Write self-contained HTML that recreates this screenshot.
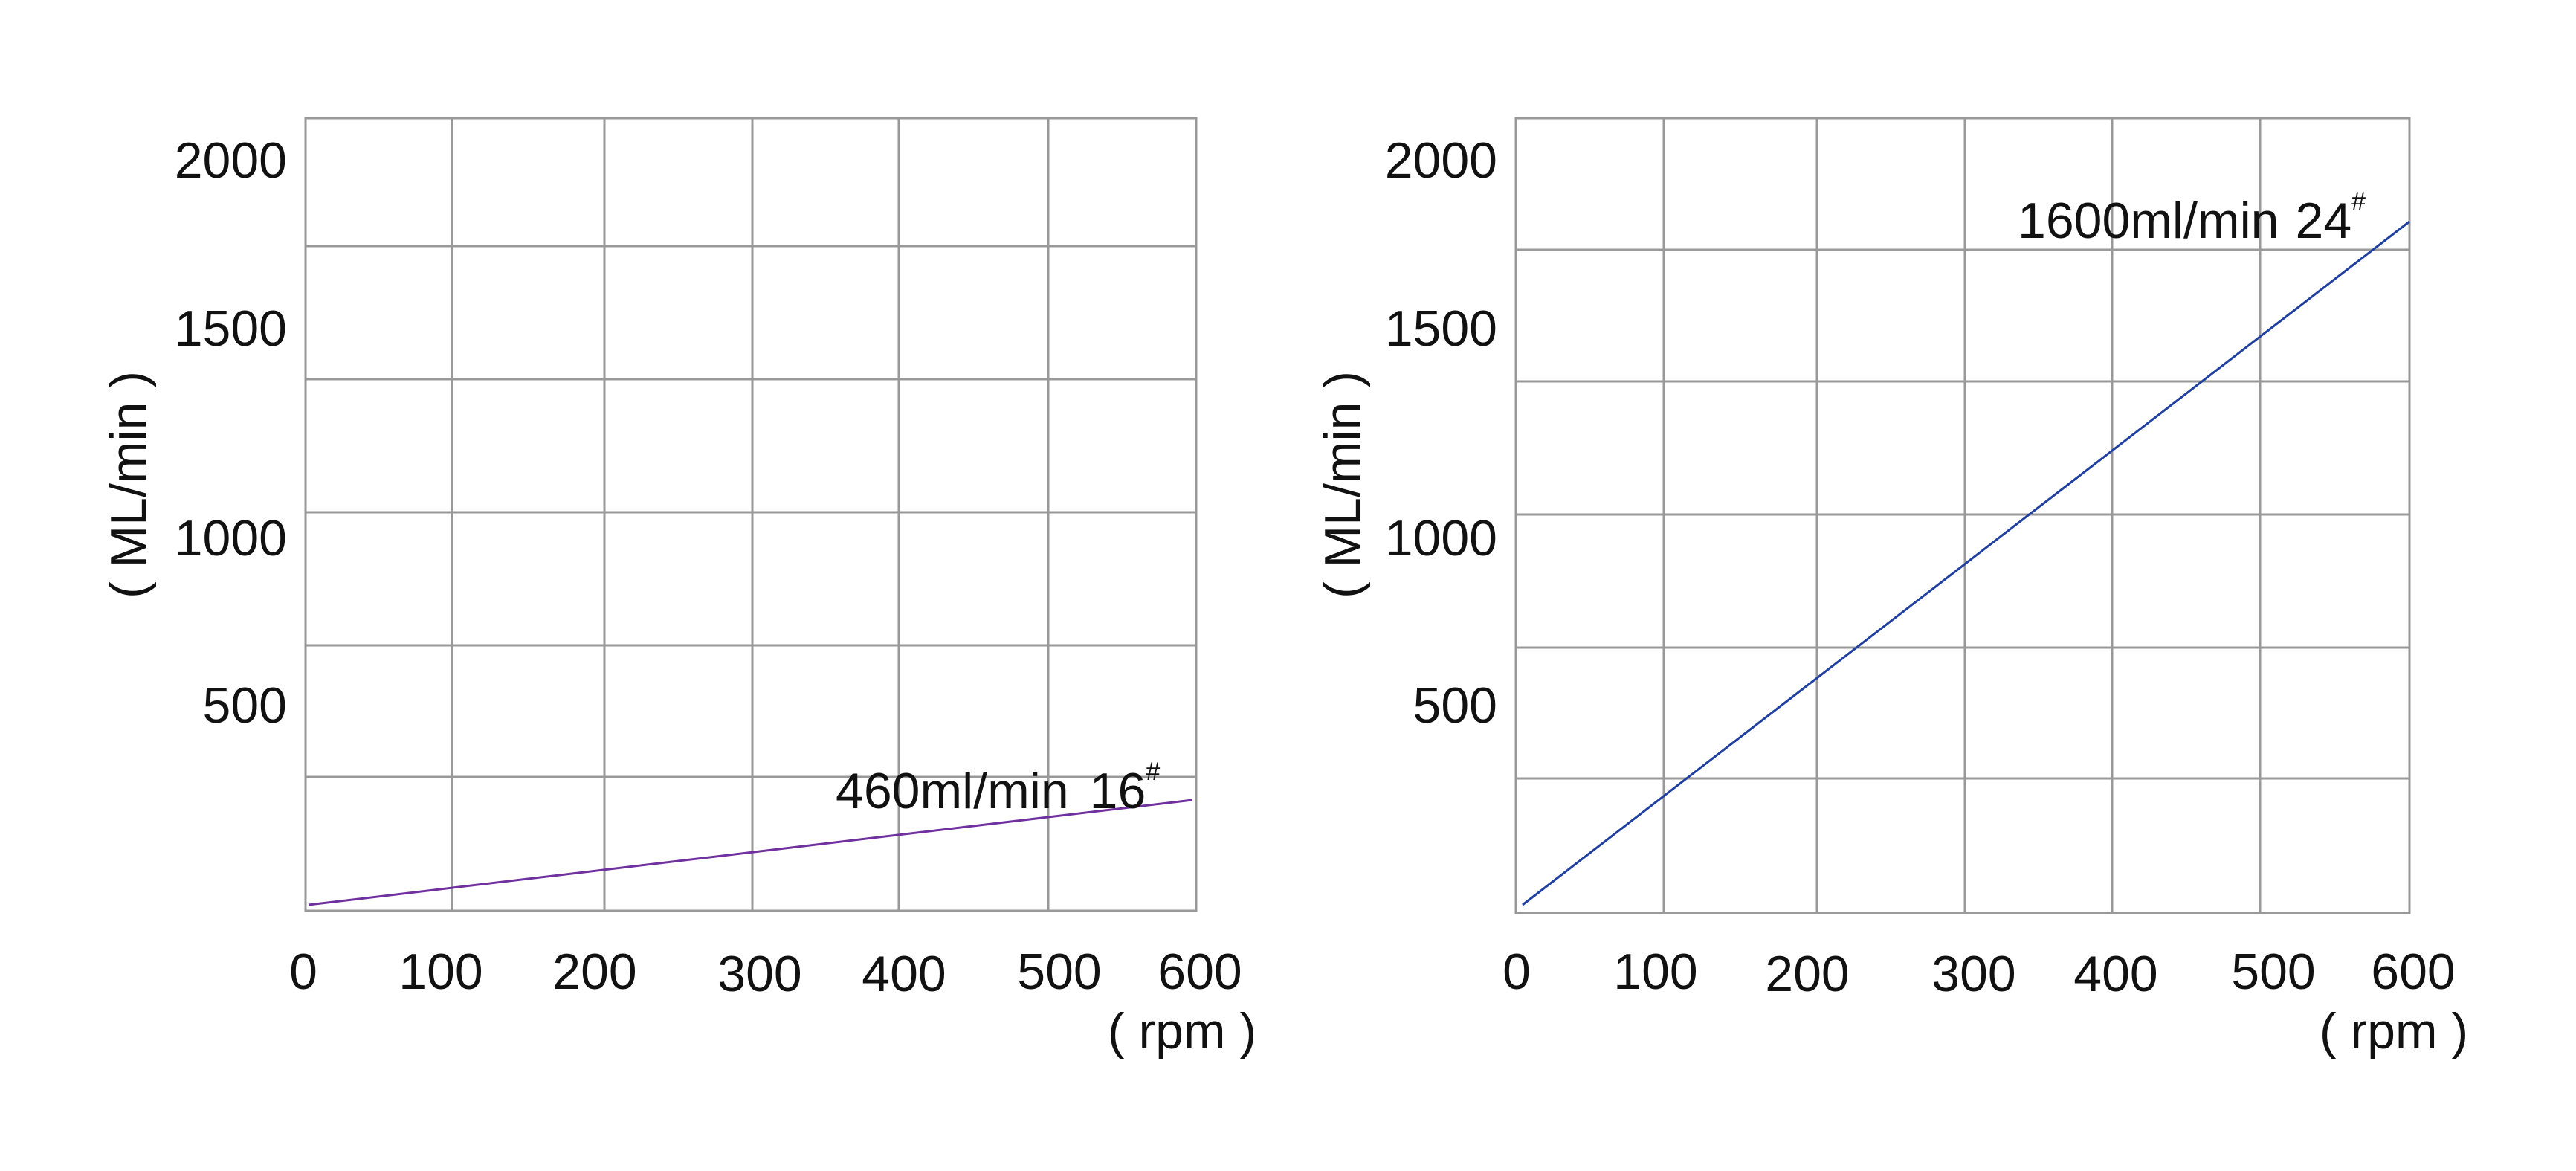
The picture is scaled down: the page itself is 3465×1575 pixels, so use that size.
<!DOCTYPE html>
<html><head><meta charset="utf-8"><style>
html,body{margin:0;padding:0;background:#fff;}
svg{display:block;}
text{font-family:"Liberation Sans",sans-serif;fill:#111;}
</style></head><body>
<svg width="3465" height="1575" viewBox="0 0 3465 1575" xmlns="http://www.w3.org/2000/svg">
<g stroke="#999" stroke-width="3" fill="none">
<rect x="411" y="159" width="1198" height="1066"/>
<line x1="608" y1="159" x2="608" y2="1225"/><line x1="813" y1="159" x2="813" y2="1225"/>
<line x1="1012" y1="159" x2="1012" y2="1225"/><line x1="1209" y1="159" x2="1209" y2="1225"/>
<line x1="1410" y1="159" x2="1410" y2="1225"/>
<line x1="411" y1="331" x2="1609" y2="331"/><line x1="411" y1="510" x2="1609" y2="510"/>
<line x1="411" y1="689" x2="1609" y2="689"/><line x1="411" y1="868" x2="1609" y2="868"/>
<line x1="411" y1="1045" x2="1609" y2="1045"/>
<rect x="2039" y="159" width="1202" height="1069"/>
<line x1="2238" y1="159" x2="2238" y2="1228"/><line x1="2444" y1="159" x2="2444" y2="1228"/>
<line x1="2643" y1="159" x2="2643" y2="1228"/><line x1="2841" y1="159" x2="2841" y2="1228"/>
<line x1="3040" y1="159" x2="3040" y2="1228"/>
<line x1="2039" y1="336" x2="3241" y2="336"/><line x1="2039" y1="513" x2="3241" y2="513"/>
<line x1="2039" y1="692" x2="3241" y2="692"/><line x1="2039" y1="871" x2="3241" y2="871"/>
<line x1="2039" y1="1047" x2="3241" y2="1047"/>
</g>
<line x1="415" y1="1217" x2="1604" y2="1076" stroke="#7030a0" stroke-width="3"/>
<line x1="2048" y1="1217" x2="3241" y2="298" stroke="#2040a0" stroke-width="3"/>
<g font-size="68">
<g text-anchor="end">
<text x="386" y="239">2000</text><text x="386" y="465">1500</text>
<text x="386" y="747">1000</text><text x="386" y="972">500</text>
<text x="2014" y="239">2000</text><text x="2014" y="465">1500</text>
<text x="2014" y="747">1000</text><text x="2014" y="972">500</text>
</g>
<g text-anchor="middle">
<text x="408" y="1330">0</text><text x="593" y="1330">100</text><text x="800" y="1330">200</text>
<text x="1022" y="1333">300</text><text x="1216" y="1333">400</text><text x="1425" y="1330">500</text><text x="1614" y="1330">600</text>
<text x="1590" y="1410">( rpm )</text>
<text x="2040" y="1330">0</text><text x="2227" y="1330">100</text><text x="2431" y="1333">200</text>
<text x="2655" y="1333">300</text><text x="2846" y="1333">400</text><text x="3058" y="1330">500</text><text x="3246" y="1330">600</text>
<text x="3220" y="1410">( rpm )</text>
<text transform="translate(196,652) rotate(-90)">( ML/min )</text>
<text transform="translate(1829,652) rotate(-90)">( ML/min )</text>
</g>
<text x="1124" y="1087">460ml/min<tspan dx="28">16</tspan><tspan font-size="34" dy="-38">#</tspan></text>
<text x="2714" y="320">1600ml/min<tspan dx="22">24</tspan><tspan font-size="34" dy="-38">#</tspan></text>
</g>
</svg>
</body></html>
